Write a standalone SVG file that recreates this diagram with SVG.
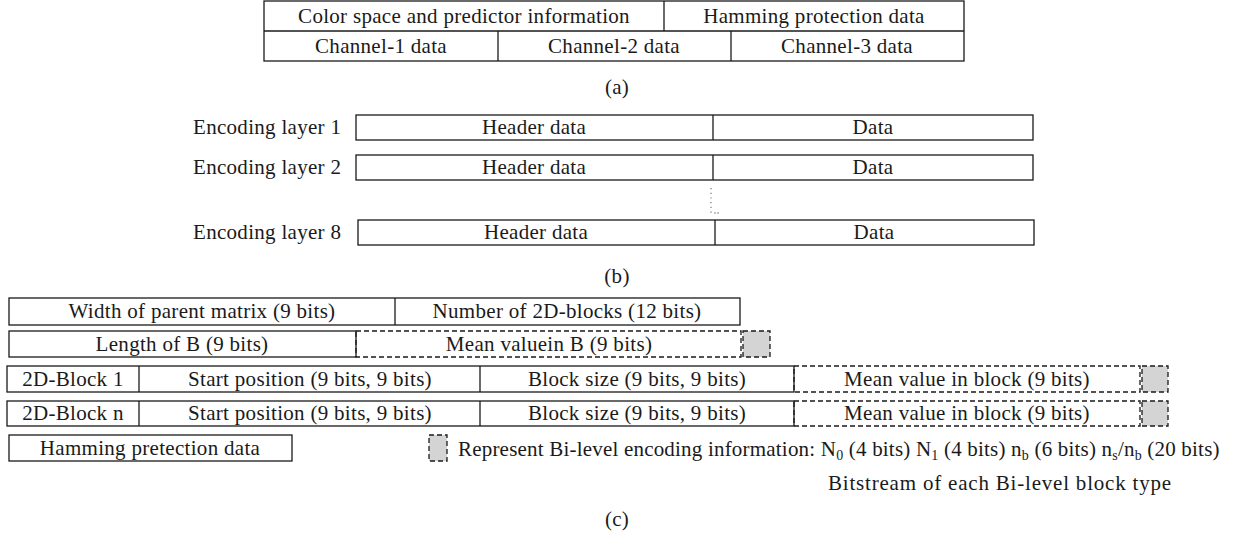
<svg xmlns="http://www.w3.org/2000/svg" width="1235" height="540" viewBox="0 0 1235 540">
  <style>
    text { font-family: "Liberation Serif", "Times New Roman", serif; font-size: 21px; letter-spacing: 0.3px; fill: #1a1a1a; }
    .c { text-anchor: middle; }
    .box { fill: none; stroke: #1a1a1a; stroke-width: 1.3; }
    .ln { stroke: #1a1a1a; stroke-width: 1.3; fill: none; }
    .dash { fill: none; stroke: #1a1a1a; stroke-width: 1.3; stroke-dasharray: 5 3; }
    .bit { fill: #d4d4d4; stroke: #1a1a1a; stroke-width: 1.3; stroke-dasharray: 5 3; }
    .sub { font-size: 14px; }
  </style>
  <rect width="1235" height="540" fill="#ffffff"/>

  <!-- (a) stream header table -->
  <g id="table-a">
    <rect class="box" x="264" y="1" width="700" height="60"/>
    <line class="ln" x1="264" y1="31" x2="964" y2="31"/>
    <line class="ln" x1="664" y1="1" x2="664" y2="31"/>
    <line class="ln" x1="498" y1="31" x2="498" y2="61"/>
    <line class="ln" x1="731" y1="31" x2="731" y2="61"/>
    <text class="c" x="464" y="23">Color space and predictor information</text>
    <text class="c" x="814" y="23">Hamming protection data</text>
    <text class="c" x="381" y="53">Channel-1 data</text>
    <text class="c" x="614" y="53">Channel-2 data</text>
    <text class="c" x="847" y="53">Channel-3 data</text>
  </g>
  <text class="c" x="617" y="94">(a)</text>

  <!-- (b) encoding layers -->
  <g id="layer-1">
    <text x="193" y="134">Encoding layer 1</text>
    <rect class="box" x="356" y="115" width="677" height="25"/>
    <line class="ln" x1="713" y1="115" x2="713" y2="140"/>
    <text class="c" x="534" y="134">Header data</text>
    <text class="c" x="873" y="134">Data</text>
  </g>
  <g id="layer-2">
    <text x="193" y="174">Encoding layer 2</text>
    <rect class="box" x="356" y="155" width="677" height="25"/>
    <line class="ln" x1="713" y1="155" x2="713" y2="180"/>
    <text class="c" x="534" y="174">Header data</text>
    <text class="c" x="873" y="174">Data</text>
  </g>
  <g id="ellipsis">
    <line x1="711" y1="188" x2="711" y2="213" stroke="#777" stroke-width="1.2" stroke-dasharray="1.2 3.5"/>
    <circle cx="715" cy="213" r="0.7" fill="#555"/>
    <circle cx="718" cy="213" r="0.7" fill="#555"/>
  </g>
  <g id="layer-8">
    <text x="193" y="239">Encoding layer 8</text>
    <rect class="box" x="358" y="220" width="676" height="25"/>
    <line class="ln" x1="715" y1="220" x2="715" y2="245"/>
    <text class="c" x="536" y="239">Header data</text>
    <text class="c" x="874" y="239">Data</text>
  </g>
  <text class="c" x="617" y="283">(b)</text>

  <!-- (c) 2D-block bitstream -->
  <g id="row-parent">
    <rect class="box" x="9" y="298" width="731" height="27"/>
    <line class="ln" x1="395" y1="298" x2="395" y2="325"/>
    <text class="c" x="202" y="318">Width of parent matrix (9 bits)</text>
    <text class="c" x="567" y="318">Number of 2D-blocks (12 bits)</text>
  </g>
  <g id="row-length">
    <rect class="box" x="9" y="331" width="347" height="26"/>
    <rect class="dash" x="356" y="331" width="385" height="26"/>
    <rect class="bit" x="743" y="331" width="27" height="26"/>
    <text class="c" x="182" y="351">Length of B (9 bits)</text>
    <text class="c" x="549" y="351">Mean valuein B (9 bits)</text>
  </g>
  <g id="row-block-1">
    <rect class="box" x="7" y="366" width="787" height="26"/>
    <line class="ln" x1="139" y1="366" x2="139" y2="392"/>
    <line class="ln" x1="480" y1="366" x2="480" y2="392"/>
    <rect class="dash" x="794" y="366" width="346" height="26"/>
    <rect class="bit" x="1142" y="366" width="26" height="26"/>
    <text class="c" x="73" y="386">2D-Block 1</text>
    <text class="c" x="310" y="386">Start position (9 bits, 9 bits)</text>
    <text class="c" x="637" y="386">Block size (9 bits, 9 bits)</text>
    <text class="c" x="967" y="386">Mean value in block (9 bits)</text>
  </g>
  <g id="row-block-n">
    <rect class="box" x="7" y="401" width="787" height="25"/>
    <line class="ln" x1="139" y1="401" x2="139" y2="426"/>
    <line class="ln" x1="480" y1="401" x2="480" y2="426"/>
    <rect class="dash" x="794" y="401" width="346" height="25"/>
    <rect class="bit" x="1142" y="401" width="26" height="25"/>
    <text class="c" x="73" y="420">2D-Block n</text>
    <text class="c" x="310" y="420">Start position (9 bits, 9 bits)</text>
    <text class="c" x="637" y="420">Block size (9 bits, 9 bits)</text>
    <text class="c" x="967" y="420">Mean value in block (9 bits)</text>
  </g>
  <g id="row-hamming">
    <rect class="box" x="9" y="435" width="283" height="26"/>
    <text class="c" x="150" y="455">Hamming pretection data</text>
  </g>
  <g id="legend">
    <rect class="bit" x="429" y="435" width="18" height="26"/>
    <text x="458" y="456" style="letter-spacing:0.2px">Represent Bi-level encoding information: N<tspan class="sub" dy="4">0</tspan><tspan dy="-4"> (4 bits) N</tspan><tspan class="sub" dy="4">1</tspan><tspan dy="-4"> (4 bits) n</tspan><tspan class="sub" dy="4">b</tspan><tspan dy="-4"> (6 bits) n</tspan><tspan class="sub" dy="4">s</tspan><tspan dy="-4">/n</tspan><tspan class="sub" dy="4">b</tspan><tspan dy="-4"> (20 bits)</tspan></text>
    <text x="828" y="490" style="letter-spacing:0.8px">Bitstream of each Bi-level block type</text>
  </g>
  <text class="c" x="617" y="526">(c)</text>
</svg>
